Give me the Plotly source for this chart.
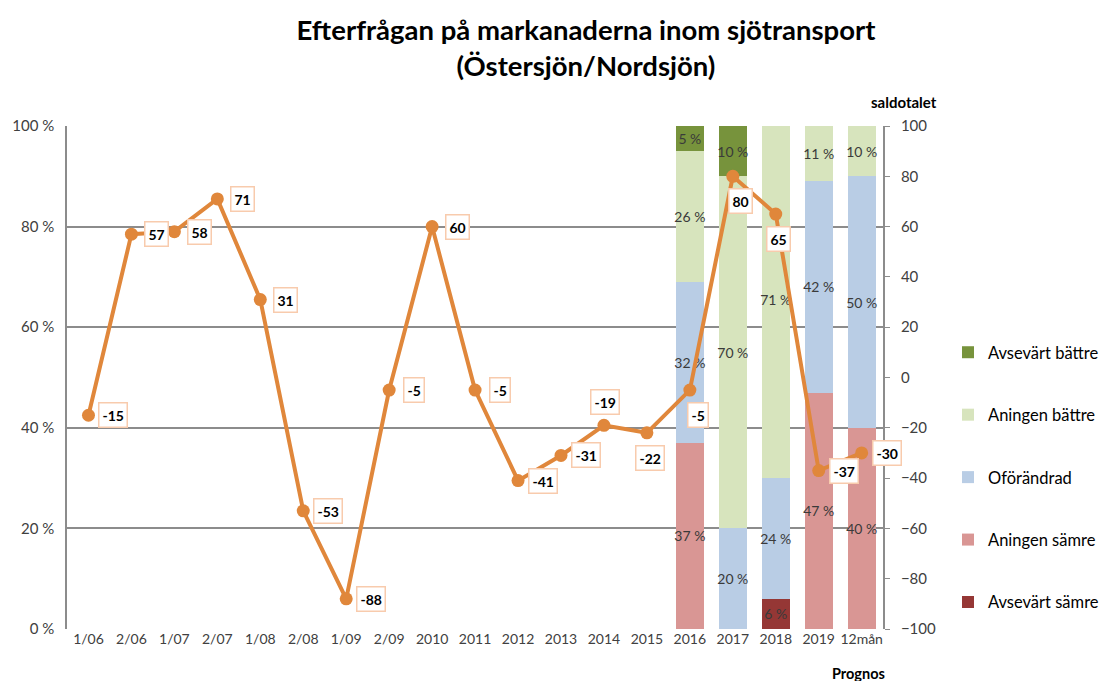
import plotly.graph_objects as go

categories = ["1/06", "2/06", "1/07", "2/07", "1/08", "2/08", "1/09", "2/09", "2010", "2011",
              "2012", "2013", "2014", "2015", "2016", "2017", "2018", "2019", "12mån"]
saldotal = [-15, 57, 58, 71, 31, -53, -88, -5, 60, -5, -41, -31, -19, -22, -5, 80, 65, -37, -30]
label_pos = ["r", "r", "r", "r", "r", "r", "r", "r", "r", "r", "r", "r", "a", "b", "b", "b", "b", "r", "r"]

bar_categories = ["2016", "2017", "2018", "2019", "12mån"]
avsevart_samre = [0, 0, 6, 0, 0]
aningen_samre = [37, 0, 0, 47, 40]
oforandrad = [32, 20, 24, 42, 50]
aningen_battre = [26, 70, 71, 11, 10]
avsevart_battre = [5, 10, 0, 0, 0]

series = [
    ("Avsevärt sämre", avsevart_samre, "#953735", 5),
    ("Aningen sämre", aningen_samre, "#D99694", 4),
    ("Oförändrad", oforandrad, "#B9CDE5", 3),
    ("Aningen bättre", aningen_battre, "#D7E4BD", 2),
    ("Avsevärt bättre", avsevart_battre, "#77933C", 1),
]

FONT = "Lato, 'Open Sans', sans-serif"
LINE = "#E0873B"

# plot area in screenshot: x 65..887, y 126..629 (body margin removed below)
W, H = 1110, 681
L, T = 65, 126
R = W - 887
B = H - 629

fig = go.Figure()
for name, vals, col, rank in series:
    y = [v / 100 if v else None for v in vals]
    fig.add_trace(go.Bar(
        x=bar_categories, y=y, name=name, marker=dict(color=col, line=dict(width=0)),
        text=[f"{v} %" if v else "" for v in vals], textposition="inside",
        insidetextanchor="middle", textangle=0, constraintext="none",
        textfont=dict(color="#3A3A3A", size=14, family=FONT),
        legendgroup=name, legendrank=rank, hoverinfo="skip",
    ))

fig.add_trace(go.Scatter(
    x=categories, y=saldotal, yaxis="y2", mode="lines+markers",
    line=dict(color=LINE, width=4), marker=dict(color=LINE, size=13),
    showlegend=False, hoverinfo="skip",
))

shifts = {"r": (25, 0), "a": (1, 23), "b": (3, -25)}
for i, (c, v, p) in enumerate(zip(categories, saldotal, label_pos)):
    xs, ys = shifts[p]
    if c in ("2016", "2017"):
        xs = 8
    fig.add_annotation(
        x=i, y=v, xref="x", yref="y2", text=f"<b>{v}</b>", showarrow=False,
        xshift=xs, yshift=ys, bgcolor="white", bordercolor="#F8CBAD", borderwidth=1.5,
        borderpad=3, font=dict(size=14, color="#000", family=FONT),
    )

fig.add_annotation(xref="x domain", yref="y domain", x=(908 - 65) / 822, y=(629 - 102) / 503,
                   xanchor="center", yanchor="middle", text="<b>saldotalet</b>", showarrow=False,
                   font=dict(size=15, color="#000", family=FONT))
fig.add_annotation(xref="x domain", yref="y domain", x=(862 - 65) / 822, y=(629 - 673) / 503,
                   xanchor="center", yanchor="middle", text="<b>Prognos</b>", showarrow=False,
                   font=dict(size=14.5, color="#000", family=FONT))

fig.update_layout(
    width=W, height=H,
    margin=dict(l=L, r=R, t=T, b=B),
    paper_bgcolor="white", plot_bgcolor="white",
    barmode="stack", bargap=0.35,
    font=dict(family=FONT, size=14, color="#404040"),
    title=dict(text="<b>Efterfrågan på markanaderna inom sjötransport<br>(Östersjön/Nordsjön)</b>",
               x=586 / W, xanchor="center", y=0.941, yanchor="top",
               font=dict(size=27.5, color="#000", family=FONT)),
    xaxis=dict(type="category", categoryorder="array", categoryarray=categories,
               range=[-0.5, len(categories) - 0.5], showgrid=False, showline=False,
               ticks="", tickfont=dict(size=14, color="#404040")),
    yaxis=dict(range=[0, 1], tickvals=[0, 0.2, 0.4, 0.6, 0.8, 1.0],
               ticktext=["0 %", "20 %", "40 %", "60 %", "80 %", "100 %"],
               showgrid=True, gridcolor="#8C8C8C", gridwidth=1.5,
               showline=True, linecolor="#8C8C8C", linewidth=1.5,
               zeroline=False, ticks="", ticklabelstandoff=8,
               tickfont=dict(size=15, color="#404040")),
    yaxis2=dict(overlaying="y", side="right", range=[-100, 100], dtick=20,
                showgrid=False, zeroline=False, showline=True, linecolor="#8C8C8C",
                linewidth=1.5, ticks="outside", ticklen=5, tickcolor="#8C8C8C",
                ticklabelstandoff=8, tickfont=dict(size=15, color="#404040")),
    legend=dict(xref="container", yref="container", x=948 / W, y=1 - 335 / H,
                xanchor="left", yanchor="top",
                traceorder="grouped", tracegroupgap=38,
                font=dict(size=16.5, color="#000", family=FONT), itemwidth=30,
                bgcolor="rgba(0,0,0,0)"),
)

fig.write_html("out.html", post_script="document.body.style.margin='0px';",
               config={"displayModeBar": False})
